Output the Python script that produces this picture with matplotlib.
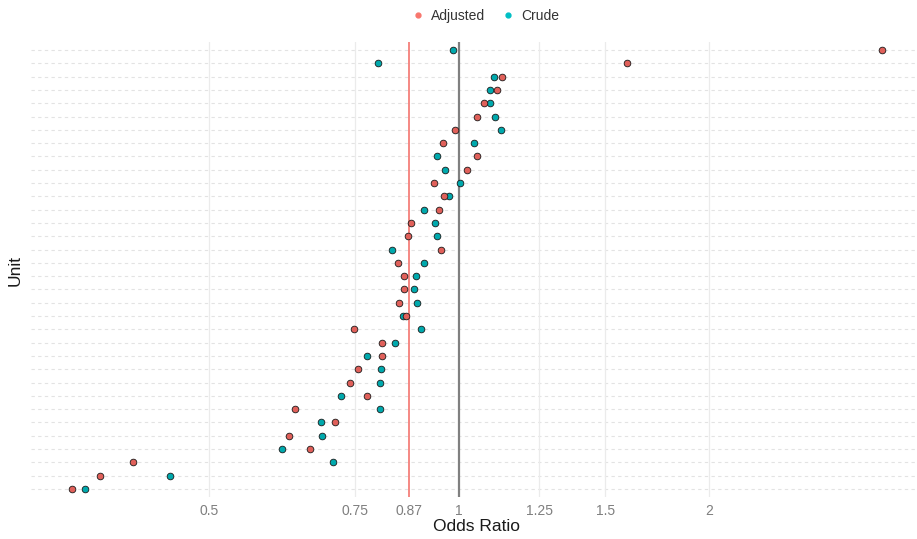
import numpy as np
import matplotlib
matplotlib.use('Agg')
from matplotlib import pyplot as plt
from matplotlib.lines import Line2D

plt.rcParams['font.family'] = ['Liberation Sans', 'DejaVu Sans']

# odds ratios per unit, top row first
adjusted = [3.24, 1.593, 1.127, 1.111, 1.072, 1.051, 0.989, 0.957, 1.051, 1.022,
			0.933, 0.958, 0.946, 0.875, 0.867, 0.951, 0.845, 0.858, 0.858, 0.847,
			0.863, 0.748, 0.808, 0.808, 0.756, 0.739, 0.775, 0.635, 0.709, 0.624,
			0.662, 0.405, 0.369, 0.341]
crude = [0.983, 0.799, 1.102, 1.090, 1.090, 1.105, 1.124, 1.043, 0.941, 0.962,
		 1.003, 0.973, 0.907, 0.936, 0.940, 0.830, 0.907, 0.887, 0.882, 0.890,
		 0.855, 0.900, 0.837, 0.775, 0.806, 0.803, 0.721, 0.803, 0.682, 0.684,
		 0.612, 0.705, 0.448, 0.354]
units = np.arange(1, len(adjusted) + 1)

tick_vals = [0.5, 0.75, 0.87, 1, 1.25, 1.5, 2]
tick_labels = ['0.5', '0.75', '0.87', '1', '1.25', '1.5', '2']
ref_adjusted = 0.87
ref_null = 1.0

col_adj = '#F8766D'
col_crude = '#00BFC4'

fig = plt.figure(figsize=(9.17, 5.39), dpi=100)
W, H = 917, 539
ax = fig.add_axes([31 / W, 1 - 497 / H, (923 - 31) / W, (497 - 42) / H])

allv = np.log2(np.array(adjusted + crude))
lo, hi = allv.min(), allv.max()
span = hi - lo
ax.set_xscale('log', base=2)
ax.set_xlim(2 ** (lo - 0.05 * span), 2 ** (hi + 0.05 * span))
ax.set_ylim(len(units) + 0.6, 0.4)

# dotted row lines, light vertical grid at the ticks
for u in units:
	ax.axhline(u, color='#E3E3E3', lw=0.8, ls=(0, (3, 3)), zorder=0)
for t in tick_vals:
	if t not in (ref_adjusted, ref_null):
		ax.axvline(t, color='#EBEBEB', lw=0.9, zorder=0)

ax.axvline(ref_adjusted, color='#F47F7A', lw=1.3, zorder=1)
ax.axvline(ref_null, color='#808080', lw=1.6, zorder=1)

ax.scatter(crude, units, s=23, c='#00A9AD', edgecolors='#1a1a1a', linewidths=0.6, zorder=3)
ax.scatter(adjusted, units, s=23, c='#E0605A', edgecolors='#1a1a1a', linewidths=0.6, zorder=3)

ax.set_xticks(tick_vals)
ax.set_xticklabels(tick_labels)
ax.xaxis.set_minor_locator(matplotlib.ticker.NullLocator())
ax.tick_params(axis='x', length=0, pad=5, labelsize=10, labelcolor='#7F7F7F')
ax.set_yticks([])
for s in ax.spines.values():
	s.set_visible(False)

ax.set_xlabel('Odds Ratio', fontsize=12.5, color='#1a1a1a', labelpad=1)
fig.text(15 / W, 1 - 270 / H, 'Unit', rotation=90, fontsize=12.5, color='#1a1a1a',
		 ha='center', va='center')

handles = [Line2D([], [], ls='', marker='o', ms=3.5, mfc=col_adj, mec=col_adj),
		   Line2D([], [], ls='', marker='o', ms=3.5, mfc=col_crude, mec=col_crude)]
fig.legend(handles, ['Adjusted', 'Crude'], loc='center', bbox_to_anchor=(485 / W, 1 - 16 / H),
		   ncol=2, frameon=False, fontsize=10, handlelength=1.0, handletextpad=0.4,
		   columnspacing=1.2, labelcolor='#333333')

fig.savefig('out.png', dpi=100)
